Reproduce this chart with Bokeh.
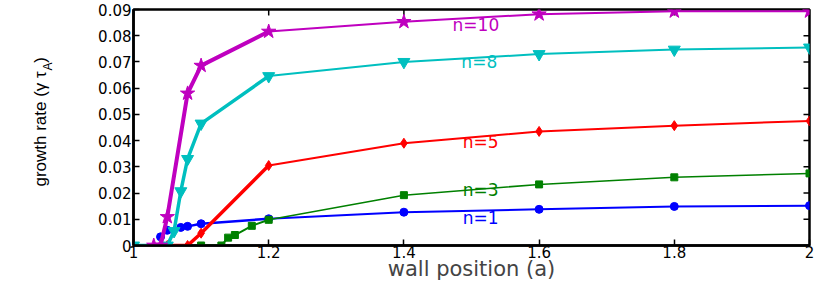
import math
from bokeh.plotting import figure
from bokeh.layouts import row
from bokeh.models import (LinearAxis, FixedTicker, PrintfTickFormatter, Range1d, Label)
from bokeh.core.properties import value
from bokeh.embed import file_html
from bokeh.resources import INLINE

# ---------------- data ----------------
x_n1 = [1.04, 1.05, 1.07, 1.08, 1.10, 1.20, 1.40, 1.60, 1.80, 2.00]
y_n1 = [0.0033, 0.0058, 0.0069, 0.0073, 0.0083, 0.0102, 0.0127, 0.0138, 0.0149, 0.0152]

x_n3 = [1.10, 1.13, 1.14, 1.15, 1.175, 1.20, 1.40, 1.60, 1.80, 2.00]
y_n3 = [0.0, 0.0, 0.0030, 0.0040, 0.0075, 0.0098, 0.0192, 0.0233, 0.0260, 0.0275]

x_n5 = [1.05, 1.08, 1.10, 1.20, 1.40, 1.60, 1.80, 2.00]
y_n5 = [0.0, 0.0, 0.0047, 0.0305, 0.0390, 0.0435, 0.0457, 0.0475]

x_n8 = [1.00, 1.05, 1.06, 1.07, 1.08, 1.10, 1.20, 1.40, 1.60, 1.80, 2.00]
y_n8 = [0.0, 0.0, 0.0055, 0.0207, 0.0330, 0.0465, 0.0646, 0.0700, 0.0730, 0.0747, 0.0755]

x_n10 = [1.03, 1.04, 1.05, 1.08, 1.10, 1.20, 1.40, 1.60, 1.80, 2.00]
y_n10 = [0.0, 0.0, 0.0109, 0.0580, 0.0686, 0.0816, 0.0853, 0.0882, 0.0893, 0.0893]

series_names = ["n=1", "n=3", "n=5", "n=8", "n=10"]
x_ticks = [1.0, 1.2, 1.4, 1.6, 1.8, 2.0]
y_ticks = [0.0, 0.01, 0.02, 0.03, 0.04, 0.05, 0.06, 0.07, 0.08, 0.09]

x_label = "wall position (a)"
y_label_main = "growth rate (\u03b3 \u03c4"
y_label_sub = "A"
y_label_end = ")"

# ---------------- styles ----------------
colors = ["#0000ff", "#008000", "#ff0000", "#00bfbf", "#bf00bf"]
markers = ["circle", "square", "diamond", "inverted_triangle", "star"]
msizes = [8, 7, 10, 12, 15]
thick_w = [2.5, 2.0, 3.5, 3.5, 4.0]
thin_w = [2.0, 1.5, 2.0, 2.0, 2.0]
lab_pos = [(1.487, 0.0105), (1.487, 0.0210), (1.487, 0.0396), (1.485, 0.0700), (1.472, 0.0842)]

H = 283
W_LAB = 60

# --- narrow side panel carrying the rotated y-axis title ---
pl = figure(width=W_LAB, height=H, output_backend="svg", toolbar_location=None,
            x_range=Range1d(0, W_LAB), y_range=Range1d(0, H),
            min_border_left=0, min_border_right=0, min_border_top=0, min_border_bottom=0,
            x_axis_location=None, y_axis_location=None)
pl.xgrid.visible = False
pl.ygrid.visible = False
pl.outline_line_color = None
pl.background_fill_color = "white"
pl.border_fill_color = "white"
yfont = value("Liberation Sans")
pl.text(x=[40], y=[H - 74], text=[y_label_main], angle=math.pi / 2, text_font=yfont,
        text_font_size="17px", text_align="right", text_baseline="alphabetic", text_color="black")
pl.text(x=[47], y=[H - 73], text=[y_label_sub], angle=math.pi / 2, text_font=yfont,
        text_font_size="12px", text_align="left", text_baseline="alphabetic", text_color="black")
pl.text(x=[40], y=[H - 64], text=[y_label_end], angle=math.pi / 2, text_font=yfont,
        text_font_size="17px", text_align="left", text_baseline="alphabetic", text_color="black")

# --- main plot ---
p = figure(width=814 - W_LAB, height=H, output_backend="svg", toolbar_location=None,
           x_range=Range1d(1.0, 2.0), y_range=Range1d(0.0, 0.09),
           min_border_left=133 - W_LAB, min_border_right=5, min_border_top=9, min_border_bottom=30,
           x_axis_location=None, y_axis_location=None)
p.xgrid.visible = False
p.ygrid.visible = False
p.outline_line_color = "black"
p.outline_line_width = 2.5
p.background_fill_color = "white"
p.border_fill_color = "white"

def style_axis(ax):
    ax.axis_line_width = 2.5
    ax.axis_line_color = "black"
    ax.major_tick_in = 6
    ax.major_tick_out = 0
    ax.minor_tick_in = 0
    ax.minor_tick_out = 0
    ax.major_tick_line_width = 1.5
    ax.major_tick_line_color = "black"
    ax.major_label_text_font = "DejaVu Sans"
    ax.major_label_text_font_size = "15px"
    ax.major_label_text_color = "black"
    ax.major_label_standoff = 2

xb = LinearAxis(ticker=FixedTicker(ticks=x_ticks), formatter=PrintfTickFormatter(format="%g"))
style_axis(xb)
xb.major_label_standoff = 0
xb.axis_label = x_label
xb.axis_label_text_font = "DejaVu Sans"
xb.axis_label_text_font_size = "21px"
xb.axis_label_text_font_style = "normal"
xb.axis_label_standoff = -4
p.add_layout(xb, "below")

yl = LinearAxis(ticker=FixedTicker(ticks=y_ticks), formatter=PrintfTickFormatter(format="%g"))
style_axis(yl)
p.add_layout(yl, "left")

# mirrored inward ticks on the top and right frame edges
tick_dx = 6 * (1.0 / 676)
tick_dy = 6 * (0.09 / 240)
p.segment(x0=x_ticks, y0=[0.09] * len(x_ticks), x1=x_ticks, y1=[0.09 - tick_dy] * len(x_ticks),
          line_color="black", line_width=1.5)
p.segment(x0=[2.0] * len(y_ticks), y0=y_ticks, x1=[2.0 - tick_dx] * len(y_ticks), y1=y_ticks,
          line_color="black", line_width=1.5)

xs = [x_n1, x_n3, x_n5, x_n8, x_n10]
ys = [y_n1, y_n3, y_n5, y_n8, y_n10]

for i in range(5):
    xx, yy = xs[i], ys[i]
    steep = [k for k in range(len(xx)) if xx[k] <= 1.2]
    p.line([xx[k] for k in steep], [yy[k] for k in steep], line_color=colors[i], line_width=thick_w[i])
    rest = [k for k in range(len(xx)) if xx[k] >= 1.2]
    p.line([xx[k] for k in rest], [yy[k] for k in rest], line_color=colors[i], line_width=thin_w[i])
    p.scatter(xx, yy, marker=markers[i], size=msizes[i], fill_color=colors[i], line_color=colors[i])

for i in range(5):
    lx, ly = lab_pos[i]
    p.add_layout(Label(x=lx, y=ly, text=series_names[i], text_color=colors[i],
                       text_font="DejaVu Sans", text_font_size="17px",
                       text_align="left", text_baseline="middle"))

layout = row(pl, p, spacing=0)
open("out.html", "w").write(file_html(layout, INLINE))
